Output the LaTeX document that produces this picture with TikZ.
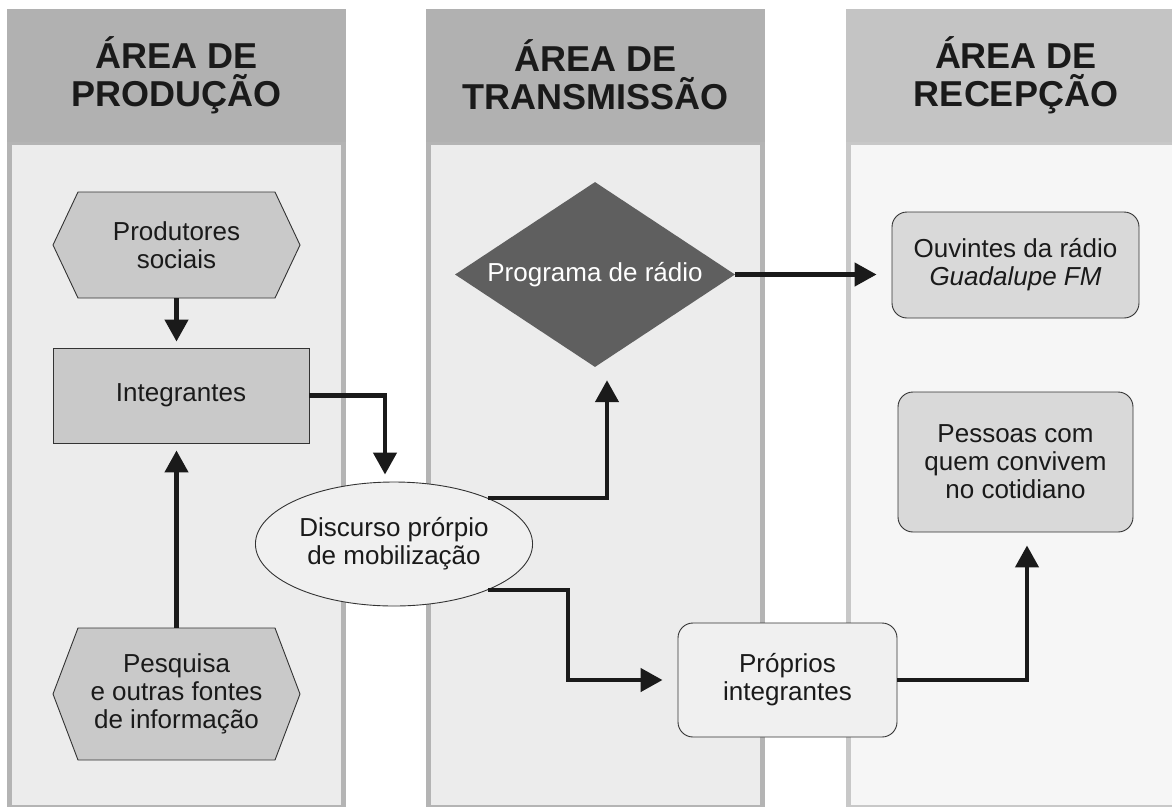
\documentclass[tikz,border=0pt]{standalone}
\usepackage{fontspec}
\setmainfont{Liberation Sans}
\usetikzlibrary{arrows.meta}
\usetikzlibrary{calc}
\usetikzlibrary{shapes.geometric}
\tikzset{>=latex}
\definecolor{headgray}{HTML}{B1B1B1}
\definecolor{headlight}{HTML}{C4C4C4}
\definecolor{panelgray}{HTML}{ECECEC}
\definecolor{panellight}{HTML}{F6F6F6}
\definecolor{edgegray}{HTML}{B4B4B4}
\definecolor{edgelight}{HTML}{C8C8C8}
\definecolor{boxgray}{HTML}{C9C9C9}
\definecolor{softgray}{HTML}{D9D9D9}
\definecolor{palegray}{HTML}{F0F0F0}
\definecolor{diamgray}{HTML}{5F5F5F}
\definecolor{inkgray}{HTML}{1A1A1A}
\definecolor{rimgray}{HTML}{333333}
\tikzstyle{headtext}=[text=inkgray,font=\bfseries\fontsize{36}{38}\selectfont,align=center]
\tikzstyle{bodytext}=[text=inkgray,font=\fontsize{26}{28}\selectfont,align=center]
\tikzstyle{hexline}=[draw=rimgray,line width=0.9pt,fill=boxgray]
\tikzstyle{hexbox}=[bodytext,rectangle]
\tikzstyle{greybox}=[bodytext,rectangle,draw=rimgray,line width=0.9pt,fill=boxgray]
\tikzstyle{roundbox}=[bodytext,rectangle,rounded corners=15pt,draw=rimgray,line width=0.9pt]
\tikzstyle{ovalbox}=[bodytext,ellipse,draw=rimgray,line width=0.9pt,fill=palegray]
\tikzstyle{diambox}=[bodytext,diamond,shape aspect=1.5,text=white,fill=diamgray,inner sep=1pt]
\tikzstyle{flow}=[draw=inkgray,line width=4.5pt,-{Triangle[width=23pt,length=22pt]}]

\begin{document}
\begin{tikzpicture}[x=1pt,y=-1pt]
  \useasboundingbox (0,0) rectangle (1172,807);
  \clip (0,0) rectangle (1172,807);

  % columns
  \fill[edgegray] (7,142) rectangle (346,807);
  \fill[panelgray] (12,145) rectangle (341,805);
  \fill[edgegray] (426,142) rectangle (765,807);
  \fill[panelgray] (431,145) rectangle (760,805);
  \fill[edgelight] (846,142) rectangle (1190,807);
  \fill[panellight] (851,145) rectangle (1190,805);

  \fill[headgray] (7,9) rectangle (346,142);
  \fill[headgray] (426,9) rectangle (765,142);
  \fill[headlight] (846,9) rectangle (1190,142);

  \node[headtext] (hprod) at (176.5,75) {ÁREA DE\\PRODUÇÃO};
  \node[headtext] (htrans) at (595.5,75) {ÁREA DE\\TRANSMISSÃO};
  \node[headtext] (hrecep) at (1016,75) {ÁREA DE\\RECEPÇÃO};

  % hexagons
  \draw[hexline] (53,245) -- (78,192) -- (275,192) -- (300,245) -- (275,298) -- (78,298) -- cycle;
  \draw[hexline] (53,694) -- (78,628) -- (275,628) -- (300,694) -- (275,760) -- (78,760) -- cycle;

  % nodes
  \node[hexbox,minimum width=247pt,minimum height=106pt] (prod) at (176.5,245) {Produtores\\sociais};
  \node[greybox,minimum width=256pt,minimum height=95pt] (integ) at (181,395.5) {Integrantes};
  \node[hexbox,minimum width=247pt,minimum height=132pt] (pesq) at (176.5,694) {Pesquisa\\e outras fontes\\de informação};
  \node[ovalbox,minimum width=264pt,minimum height=124pt] (disc) at (394,544) {Discurso prórpio\\de mobilização};
  \node[diambox,minimum width=280pt,minimum height=185pt] (diam) at (595,274.5) {Programa de rádio};
  \node[roundbox,fill=palegray,minimum width=219pt,minimum height=114pt] (prop) at (787.5,680) {Próprios\\integrantes};
  \node[roundbox,fill=softgray,minimum width=247pt,minimum height=106pt] (ouv) at (1015.5,265) {Ouvintes da rádio\\\textit{Guadalupe FM}};
  \node[roundbox,fill=softgray,minimum width=235pt,minimum height=140pt] (pess) at (1015.5,462) {Pessoas com\\quem convivem\\no cotidiano};

  % connectors
  \draw[flow] (prod.south) -- ($(prod.south |- integ.north)+(0,-6)$);
  \draw[flow] (pesq.north) -- ($(pesq.north |- integ.south)+(0,7)$);
  \draw[flow] (integ.east) -| ($(disc.north)+(-9,-7)$);
  \draw[flow] (disc.26) -| ($(diam.south)+(12,13)$);
  \draw[flow] (disc.-26) -| (568,680) -- ($(prop.west)+(-15,0)$);
  \draw[flow] (diam.east) -- ($(diam.east -| ouv.west)+(-15,0)$);
  \draw[flow] (prop.east) -| ($(pess.south)+(11.5,13)$);
\end{tikzpicture}
\end{document}
